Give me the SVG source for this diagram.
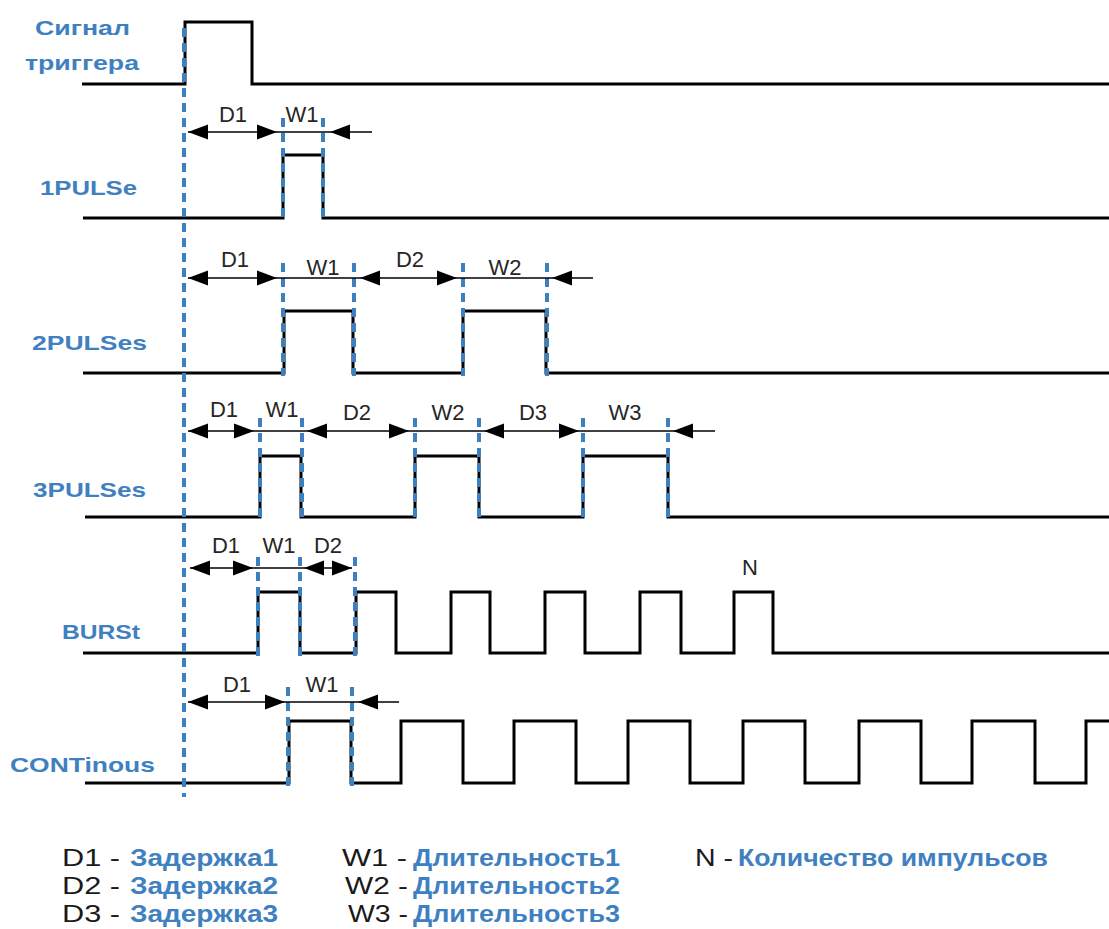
<svg xmlns="http://www.w3.org/2000/svg" xmlns:xlink="http://www.w3.org/1999/xlink" width="1109" height="929" viewBox="0 0 1109 929">
<style>
.sig{fill:none;stroke:#000;stroke-width:3;stroke-linejoin:miter}
.dash{stroke:#3d7fc1;stroke-width:4;stroke-dasharray:9,6;fill:none}
.dim{stroke:#000;stroke-width:1.5;fill:none}
.lbl{font-family:"Liberation Sans",Arial,sans-serif;font-size:22px;fill:#262626;text-anchor:middle}
.name{font-family:"Liberation Sans",Arial,sans-serif;font-size:21px;font-weight:bold;fill:#3f80c0}
.lg{font-family:"Liberation Sans",Arial,sans-serif;font-size:23px;fill:#1a1a1a}
.lgb{font-family:"Liberation Sans",Arial,sans-serif;font-size:23px;font-weight:bold;fill:#3f80c0}
</style>
<defs>
<path id="aL" d="M0,0 L20,-7.5 L20,7.5 z" fill="#000"/>
<path id="aR" d="M0,0 L-20,-7.5 L-20,7.5 z" fill="#000"/>
</defs>
<rect width="1109" height="929" fill="#fff"/>

<g id="trigger">
<path class="sig" d="M82,84 H185 V22 H252 V84 H1109"/>
<text class="name" x="35" y="35" textLength="95" lengthAdjust="spacingAndGlyphs">Сигнал</text>
<text class="name" x="25" y="70" textLength="114" lengthAdjust="spacingAndGlyphs">триггера</text>
</g>

<g id="pulse1">
<path class="sig" d="M83,218 H283 V155 H323 V218 H1109"/>
<text class="name" x="40" y="195" textLength="97" lengthAdjust="spacingAndGlyphs">1PULSe</text>
</g>

<g id="pulse2">
<path class="sig" d="M83,373 H284 V311 H353 V373 H463 V311 H546 V373 H1109"/>
<text class="name" x="32" y="350" textLength="115" lengthAdjust="spacingAndGlyphs">2PULSes</text>
</g>

<g id="pulse3">
<path class="sig" d="M85,517 H260 V456 H301 V517 H415 V456 H479 V517 H583 V456 H668 V517 H1109"/>
<text class="name" x="33" y="497" textLength="113" lengthAdjust="spacingAndGlyphs">3PULSes</text>
</g>

<g id="burst">
<path class="sig" d="M83,653 H258 V592 H300 V653 H356 V592 H396 V653 H451 V592 H490 V653 H545 V592 H585 V653 H640 V592 H681 V653 H734 V592 H773 V653 H1109"/>
<text class="name" x="62" y="639" textLength="78" lengthAdjust="spacingAndGlyphs">BURSt</text>
<text class="lbl" x="750" y="575">N</text>
</g>

<g id="continuous">
<path class="sig" d="M85,783 H289 V721 H351 V783 H401 V721 H463 V783 H514 V721 H576 V783 H628 V721 H690 V783 H743 V721 H805 V783 H859 V721 H921 V783 H972 V721 H1035 V783 H1086 V721 H1109"/>
<text class="name" x="10" y="772" textLength="145" lengthAdjust="spacingAndGlyphs">CONTinous</text>
</g>

<g id="connectors">
<line class="dash" x1="184" y1="28" x2="184" y2="797"/>
<line class="dash" x1="283" y1="118" x2="283" y2="220"/>
<line class="dash" x1="323" y1="118" x2="323" y2="220"/>
<line class="dash" x1="283" y1="263" x2="283" y2="376"/>
<line class="dash" x1="354" y1="263" x2="354" y2="376"/>
<line class="dash" x1="463" y1="263" x2="463" y2="376"/>
<line class="dash" x1="547" y1="263" x2="547" y2="376"/>
<line class="dash" x1="260" y1="418" x2="260" y2="523"/>
<line class="dash" x1="302" y1="418" x2="302" y2="523"/>
<line class="dash" x1="415" y1="418" x2="415" y2="523"/>
<line class="dash" x1="479" y1="418" x2="479" y2="523"/>
<line class="dash" x1="583" y1="418" x2="583" y2="523"/>
<line class="dash" x1="668" y1="418" x2="668" y2="523"/>
<line class="dash" x1="258" y1="557" x2="258" y2="657"/>
<line class="dash" x1="300" y1="557" x2="300" y2="657"/>
<line class="dash" x1="355" y1="557" x2="355" y2="657"/>
<line class="dash" x1="288" y1="687" x2="288" y2="790"/>
<line class="dash" x1="352" y1="687" x2="352" y2="790"/>

<line class="dim" x1="188" y1="132" x2="372" y2="132"/>
<use href="#aL" x="188" y="132"/><use href="#aR" x="277" y="132"/><use href="#aL" x="330" y="132"/>

<line class="dim" x1="188" y1="278" x2="593" y2="278"/>
<use href="#aL" x="188" y="278"/><use href="#aR" x="277" y="278"/><use href="#aL" x="360" y="278"/><use href="#aR" x="457" y="278"/><use href="#aL" x="552" y="278"/>

<line class="dim" x1="188" y1="431" x2="715" y2="431"/>
<use href="#aL" x="188" y="431"/><use href="#aR" x="254" y="431"/><use href="#aL" x="307" y="431"/><use href="#aR" x="409" y="431"/><use href="#aL" x="484" y="431"/><use href="#aR" x="579" y="431"/><use href="#aL" x="673" y="431"/>

<line class="dim" x1="190" y1="568" x2="352" y2="568"/>
<use href="#aL" x="190" y="568"/><use href="#aR" x="253" y="568"/><use href="#aL" x="304" y="568"/><use href="#aR" x="352" y="568"/>

<line class="dim" x1="188" y1="702" x2="399" y2="702"/>
<use href="#aL" x="188" y="702"/><use href="#aR" x="285" y="702"/><use href="#aL" x="358" y="702"/>
</g>

<g id="dim-labels">
<text class="lbl" x="233" y="122">D1</text>
<text class="lbl" x="302" y="122">W1</text>
<text class="lbl" x="235" y="267">D1</text>
<text class="lbl" x="323" y="275">W1</text>
<text class="lbl" x="410" y="267">D2</text>
<text class="lbl" x="505" y="275">W2</text>
<text class="lbl" x="224" y="417">D1</text>
<text class="lbl" x="282" y="417">W1</text>
<text class="lbl" x="357" y="420">D2</text>
<text class="lbl" x="448" y="420">W2</text>
<text class="lbl" x="533" y="420">D3</text>
<text class="lbl" x="625" y="420">W3</text>
<text class="lbl" x="226" y="553">D1</text>
<text class="lbl" x="279" y="553">W1</text>
<text class="lbl" x="328" y="553">D2</text>
<text class="lbl" x="237" y="692">D1</text>
<text class="lbl" x="322" y="692">W1</text>
</g>

<g id="legend">
<text class="lg" x="62" y="866" textLength="58" lengthAdjust="spacingAndGlyphs">D1 -</text>
<text class="lgb" x="130" y="866" textLength="148" lengthAdjust="spacingAndGlyphs">Задержка1</text>
<text class="lg" x="62" y="894" textLength="58" lengthAdjust="spacingAndGlyphs">D2 -</text>
<text class="lgb" x="130" y="894" textLength="148" lengthAdjust="spacingAndGlyphs">Задержка2</text>
<text class="lg" x="62" y="922" textLength="58" lengthAdjust="spacingAndGlyphs">D3 -</text>
<text class="lgb" x="130" y="922" textLength="148" lengthAdjust="spacingAndGlyphs">Задержка3</text>
<text class="lg" x="342" y="866" textLength="65" lengthAdjust="spacingAndGlyphs">W1 -</text>
<text class="lgb" x="413" y="866" textLength="207" lengthAdjust="spacingAndGlyphs">Длительность1</text>
<text class="lg" x="345" y="894" textLength="63" lengthAdjust="spacingAndGlyphs">W2 -</text>
<text class="lgb" x="413" y="894" textLength="207" lengthAdjust="spacingAndGlyphs">Длительность2</text>
<text class="lg" x="348" y="922" textLength="60" lengthAdjust="spacingAndGlyphs">W3 -</text>
<text class="lgb" x="413" y="922" textLength="207" lengthAdjust="spacingAndGlyphs">Длительность3</text>
<text class="lg" x="695" y="866" textLength="38" lengthAdjust="spacingAndGlyphs">N -</text>
<text class="lgb" x="738" y="866" textLength="310" lengthAdjust="spacingAndGlyphs">Количество импульсов</text>
</g>
</svg>
